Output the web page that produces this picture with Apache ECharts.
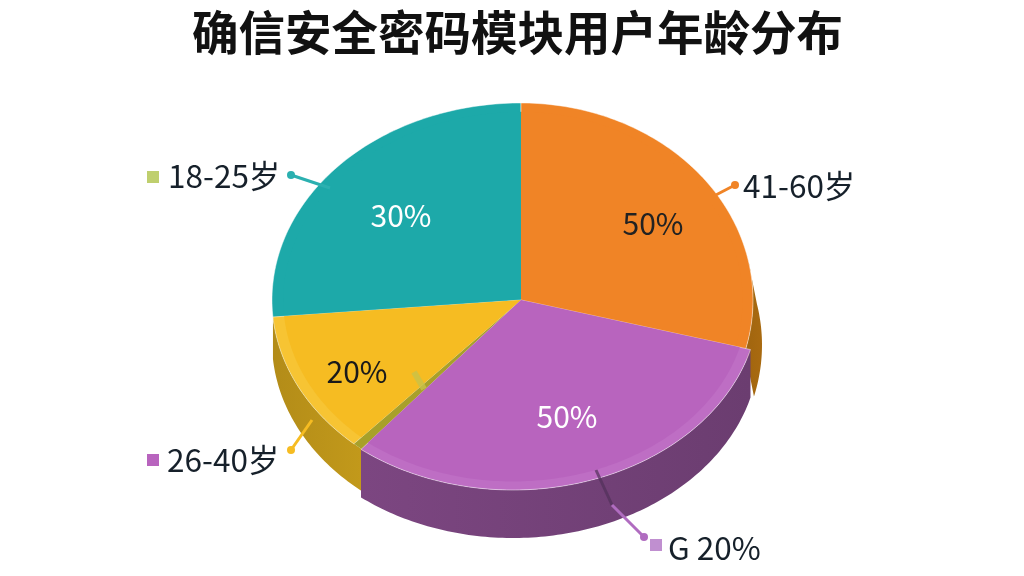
<!DOCTYPE html>
<html><head><meta charset="utf-8">
<style>html,body{margin:0;padding:0;background:#fff}#c{width:1024px;height:576px}</style>
<script src="https://cdn.jsdelivr.net/npm/echarts@6/dist/echarts.min.js"></script>
</head><body><div id="c"></div>
<script>
// clockwise from the top of the pie
const categories = ["41-60岁", "未标注", "26-40岁", "18-25岁"];
const sliceShares = [29.2, 31.4, 13.0, 26.4];      // visual share of each slice
const insideLabels = ["50%", "50%", "20%", "30%"]; // printed percentages
const outsideLabels = ["41-60岁", "G 20%", "26-40岁", "18-25岁"];
const colors = ["#F08426", "#B864BE", "#F6BC22", "#1DA9A9"];
const rimColors = ["#F08426", "#BE6EC4", "#F7C433", "#1DA9A9"];
const wallColors = ["#A96A10", "#6B3D70", "#C39A1B", null];
const wallColorsEnd = ["#A0650F", "#7C4681", "#B38C18", null];

// drawing geometry of the tilted disc
const apex = [521, 300];
const geo = [
  {cx: 521, cy: 300, rx: 232, ry: 197, depth: 45, wdx: 9, wallFrom: 78, pad: 0, z: 1},
  {cx: 513, cy: 300, rx: 246, ry: 190, depth: 48, wdx: 0, wallFrom: 0, pad: 0, z: 3},
  {cx: 521, cy: 300, rx: 249, ry: 194, depth: 42, wdx: 0, wallFrom: 0, pad: 4, z: 2},
  {cx: 521, cy: 300, rx: 249, ry: 197, depth: 0, wdx: 0, wallFrom: 0, pad: 0, z: 0}
];
const total = sliceShares.reduce((a, b) => a + b, 0);
const starts = [];
sliceShares.reduce((acc, v, i) => { starts[i] = acc; return acc + v / total * 360; }, 0);

function pt(g, deg, k, dx, dy) {
  const a = deg * Math.PI / 180;
  return [g.cx + (dx || 0) + g.rx * k * Math.sin(a), g.cy + (dy || 0) - g.ry * k * Math.cos(a)];
}
function arc(g, a0, a1, k, dx, dy) {
  const out = [], n = Math.max(2, Math.ceil(Math.abs(a1 - a0)));
  for (let i = 0; i <= n; i++) out.push(pt(g, a0 + (a1 - a0) * i / n, k, dx, dy));
  return out;
}
function slicePoly(g, a0, a1, k) {
  const p = [apex].concat(arc(g, a0, a1, k));
  return p;
}
function renderWalls(params, api) {
  const i = params.dataIndex, g = geo[i];
  if (!g.depth) return {type: 'group', children: []};
  const a0 = Math.max(starts[i], g.wallFrom || 90), a1 = Math.min(starts[i] + api.value(0) / total * 360, 270);
  const top = arc(g, a0, a1, 1);
  const low = arc(g, a1, a0, 1, g.wdx, g.depth);
  return {
    type: 'polygon', z2: g.z,
    shape: {points: top.concat(low)},
    style: {fill: new echarts.graphic.LinearGradient(0, 0, 1, 0, [
      {offset: 0, color: wallColorsEnd[i]}, {offset: 1, color: wallColors[i]}])}
  };
}
function renderTops(params, api) {
  const i = params.dataIndex, g = geo[i];
  const a0 = starts[i], a1 = a0 + api.value(0) / total * 360;
  const kids = [];
  if (g.pad) kids.push({type: 'polygon', z2: g.z, shape: {points: slicePoly(g, a0, a1, 1)}, style: {fill: '#A8A02A'}});
  kids.push({type: 'polygon', z2: g.z + 1, shape: {points: slicePoly(g, a0 + g.pad, a1, 1)},
    style: {fill: rimColors[i], stroke: 'rgba(255,255,255,0.45)', lineWidth: 1}});
  kids.push({type: 'polygon', z2: g.z + 2, shape: {points: slicePoly(g, a0 + g.pad, a1, 0.955)},
    style: {fill: colors[i]}});
  return {type: 'group', children: kids};
}

// annotation layout
const font = '"Noto Sans CJK SC","Noto Sans",sans-serif';
const insidePos = [[653, 224, '#222'], [567, 417, '#fff'], [357, 372, '#1a1a1a'], [401, 216, '#fff']];
const outsidePos = [[743, 186], [668, 548], [167, 460], [168, 176]];
const markers = [null, [650, 539, '#C08FD0'], [147, 454, '#B864BE'], [147, 171, '#BFCF6E']];
const leaders = [
  {pts: [[735, 185], [712, 197]], color: '#F08426'},
  {pts: [[644, 537], [612, 505]], color: '#B06CC0'},
  {pts: [[291, 450], [312, 420]], color: '#F6BC22'},
  {pts: [[291, 175], [330, 188]], color: '#2BB0B0'}
];
const graphics = [];
leaders.forEach(l => {
  graphics.push({type: 'polyline', z: 20, shape: {points: l.pts}, style: {stroke: l.color, lineWidth: 3, fill: null}});
  graphics.push({type: 'circle', z: 20, shape: {cx: l.pts[0][0], cy: l.pts[0][1], r: 4}, style: {fill: l.color}});
});
graphics.push({type: 'polyline', z: 19, shape: {points: [[612, 505], [596, 470]]}, style: {stroke: '#51305A', lineWidth: 3, fill: null, opacity: 0.7}});
graphics.push({type: 'polyline', z: 19, shape: {points: [[414, 372], [424, 389]]}, style: {stroke: '#C8C24A', lineWidth: 6, fill: null, opacity: 0.8}});
markers.forEach(m => { if (m) graphics.push({type: 'rect', z: 20, shape: {x: m[0], y: m[1], width: 12, height: 12}, style: {fill: m[2]}}); });
outsideLabels.forEach((t, i) => graphics.push({type: 'text', z: 21, x: outsidePos[i][0], y: outsidePos[i][1],
  style: {text: t, fill: '#16202a', font: '31.5px ' + font, textAlign: 'left', textVerticalAlign: 'middle'}}));
insideLabels.forEach((t, i) => graphics.push({type: 'text', z: 21, x: insidePos[i][0], y: insidePos[i][1],
  style: {text: t, fill: insidePos[i][2], font: '30px ' + font, textAlign: 'center', textVerticalAlign: 'middle'}}));

const chart = echarts.init(document.getElementById('c'), null, {renderer: 'canvas'});
chart.setOption({
  animation: false,
  backgroundColor: '#fff',
  title: {text: '确信安全密码模块用户年龄分布', left: 187, top: 4,
    textStyle: {fontFamily: font, fontSize: 46.5, fontWeight: 'bold', color: '#111'}},
  graphic: {elements: graphics},
  series: [
    {type: 'custom', name: 'walls', coordinateSystem: 'none', renderItem: renderWalls, z: 1,
     data: sliceShares.map((v, i) => ({name: categories[i], value: [v]}))},
    {type: 'custom', name: 'tops', coordinateSystem: 'none', renderItem: renderTops, z: 2,
     data: sliceShares.map((v, i) => ({name: categories[i], value: [v]}))}
  ]
});
</script></body></html>
